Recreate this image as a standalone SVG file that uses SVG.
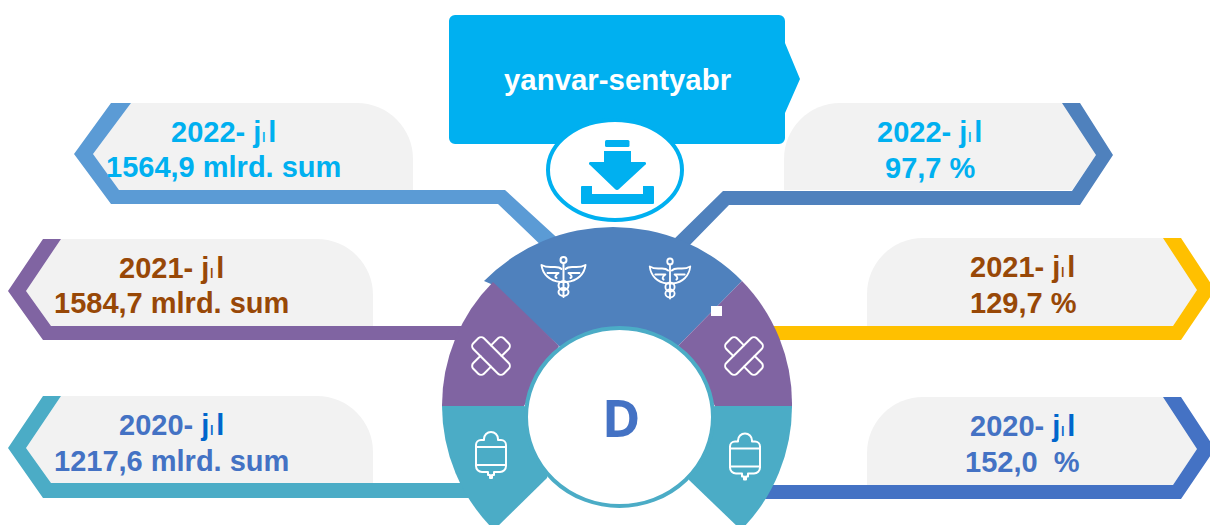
<svg xmlns="http://www.w3.org/2000/svg" width="1210" height="525" viewBox="0 0 1210 525">
<style>
text{font-family:"Liberation Sans",Arial,sans-serif;font-weight:700;font-size:29px}
.card{fill:#F2F2F2}
.cy{fill:#00B0F0}.br{fill:#984807}.bl{fill:#4472C4}
.i{font-size:18px;font-weight:400;letter-spacing:2px}
.j{fill:#0066CC}
.ic{fill:none;stroke:#fff;stroke-width:2;stroke-linejoin:round;stroke-linecap:round}
</style>
<defs>
<g id="caduceus" class="ic">
<circle cx="0" cy="-17" r="3"/>
<path d="M0,-14V20"/>
<path d="M-2,-8C-7,-13-13,-7-22,-12C-21,-3-14,4-3,5H3C14,4 21,-3 22,-12C13,-7 7,-13 2,-8"/>
<path d="M-16,-4H-5C-8,-2-9,0-7,1M16,-4H5C8,-2 9,0 7,1"/>
<ellipse cx="0" cy="8.500" rx="5" ry="4.500"/>
<ellipse cx="0" cy="15" rx="5" ry="4"/>
</g>
<g id="bandage" class="ic">
<rect x="-21.500" y="-7.500" width="43" height="15" rx="4" transform="rotate(45)"/>
<path transform="rotate(-45)" d="M-7.500,-7.500H-17.500a4,4 0 0 0 -4,4V3.500a4,4 0 0 0 4,4H-7.500M7.500,-7.500H17.500a4,4 0 0 1 4,4V3.500a4,4 0 0 1 -4,4H7.500"/>
</g>
<g id="bag" class="ic">
<path d="M-7,-15V-16a7,7 0 0 1 14,0V-15H10a5,5 0 0 1 5,5V11a6,6 0 0 1 -6,6H3V20H1V23H-1V20H-3V17H-9a6,6 0 0 1 -6,-6V-10a5,5 0 0 1 5,-5Z"/>
<path d="M-15,-8H15M-15,10H15"/>
</g>
</defs>

<g id="card-left-2022"><path class="card" d="M111,103H357A56,56 0 0 1 413,159V190H119L93,154L131,103Z"/></g>
<g id="card-left-2021"><path class="card" d="M43,239H317A56,56 0 0 1 373,295V326H51L26,291L61,239Z"/></g>
<g id="card-left-2020"><path class="card" d="M43,396H317A56,56 0 0 1 373,452V483H51L26,448L61,396Z"/></g>
<g id="card-right-2022"><path class="card" d="M840,103H1080L1096,155L1072,190H784V159A56,56 0 0 1 840,103Z"/></g>
<g id="card-right-2021"><path class="card" d="M923,238H1181L1197,290L1173,326H867V294A56,56 0 0 1 923,238Z"/></g>
<g id="card-right-2020"><path class="card" d="M923,397H1181L1197,449L1173,485H867V453A56,56 0 0 1 923,397Z"/></g>

<g id="connectors">
<path fill="#5B9BD5" d="M111,103H131L93,154L119,190H505L565,245L548,252L498,204H111L74,154Z"/>
<path fill="#4F81BD" d="M1062,103H1080L1113,155L1080,205H729L685,250L668,245L723,191H1072L1096,155Z"/>
<path fill="#8064A2" d="M43,239H61L26,291L51,326H470V340H43L8,291Z"/>
<path fill="#4BACC6" d="M43,396H61L26,448L51,483H480V498H43L8,448Z"/>
<path fill="#FFC000" d="M1163,238H1181L1215,290L1181,340H770V326H1173L1197,290Z"/>
<path fill="#4472C4" d="M1163,397H1181L1215,449L1181,499H760V485H1173L1197,449Z"/>
</g>

<g id="header">
<path fill="#00B0F0" d="M455,15H779a6,6 0 0 1 6,6V43L800,79L785,113V138a6,6 0 0 1 -6,6H455a6,6 0 0 1 -6,-6V21a6,6 0 0 1 6,-6Z"/>
<text x="504" y="90" fill="#fff" style="font-size:29.400px">yanvar-sentyabr</text>
</g>

<g id="download">
<ellipse cx="615" cy="170" rx="67" ry="50" fill="#fff" stroke="#00B0F0" stroke-width="4"/>
<rect x="605" y="140" width="24.500" height="7" rx="1.500" fill="#00B0F0"/>
<path fill="#00B0F0" d="M604,151H631V162H644a1.500,1.500 0 0 1 1,3L619,189a2.500,2.500 0 0 1 -4,0L590,165a1.500,1.500 0 0 1 1,-3H604Z"/>
<path fill="#00B0F0" d="M582,186H592V194H643V186H653a1,1 0 0 1 1,1V203a1,1 0 0 1 -1,1H582a1,1 0 0 1 -1,-1V187a1,1 0 0 1 1,-1Z"/>
</g>

<g id="wheel">
<path id="segment-blue" fill="#4F81BD" d="M484,281A181,181 0 0 1 742,281L678,346L620,380L559,346L491,284Z"/>
<path id="segment-purple-left" fill="#8064A2" d="M493,282A175,175 0 0 0 442,406H524L559,346Z"/>
<path id="segment-purple-right" fill="#8064A2" d="M742,281A175,175 0 0 1 792,406H715L678,346Z"/>
<path id="segment-teal-left" fill="#4BACC6" d="M442,406A175,175 0 0 0 494,530L547,478L560,420L524,406Z"/>
<path id="segment-teal-right" fill="#4BACC6" d="M792,406A175,175 0 0 1 741,530L689,480L680,420L715,406Z"/>
<ellipse id="hub" cx="619.500" cy="417" rx="93.500" ry="89" fill="#fff" stroke="#4BACC6" stroke-width="4"/>
<text x="602" y="437" class="bl" style="font-family:'Open Sans','Noto Sans',sans-serif;font-size:52px">D</text>
<rect id="marker-square" x="711" y="306" width="11" height="10" fill="#fff"/>
<use href="#caduceus" transform="translate(563.500,277)"/>
<use href="#caduceus" transform="translate(670,278.500) scale(.92,1)"/>
<use href="#bandage" transform="translate(491,356)"/>
<use href="#bandage" transform="translate(744,356) scale(-1,1)"/>
<use href="#bag" transform="translate(491,455)"/>
<use href="#bag" transform="translate(745,456.500)"/>
</g>

<g id="label-left-2022"><text x="171" y="142" class="cy">2022- j<tspan class="i">ı</tspan>l</text><text x="106" y="177" class="cy">1564,9 mlrd. sum</text></g>
<g id="label-left-2021"><text x="119" y="278" class="br">2021- j<tspan class="i">ı</tspan>l</text><text x="54" y="313" class="br">1584,7 mlrd. sum</text></g>
<g id="label-left-2020"><text x="119" y="435" class="bl">2020- <tspan class="j">j<tspan class="i">ı</tspan>l</tspan></text><text x="54" y="471" class="bl">1217,6 mlrd. sum</text></g>
<g id="label-right-2022"><text x="877" y="142" class="cy">2022- j<tspan class="i">ı</tspan>l</text><text x="885" y="178" class="cy">97,7 %</text></g>
<g id="label-right-2021"><text x="970" y="277" class="br">2021- j<tspan class="i">ı</tspan>l</text><text x="970" y="313" class="br">129,7 %</text></g>
<g id="label-right-2020"><text x="970" y="436" class="bl">2020- <tspan class="j">j<tspan class="i">ı</tspan>l</tspan></text><text x="965" y="472" class="bl" xml:space="preserve">152,0  %</text></g>
</svg>
